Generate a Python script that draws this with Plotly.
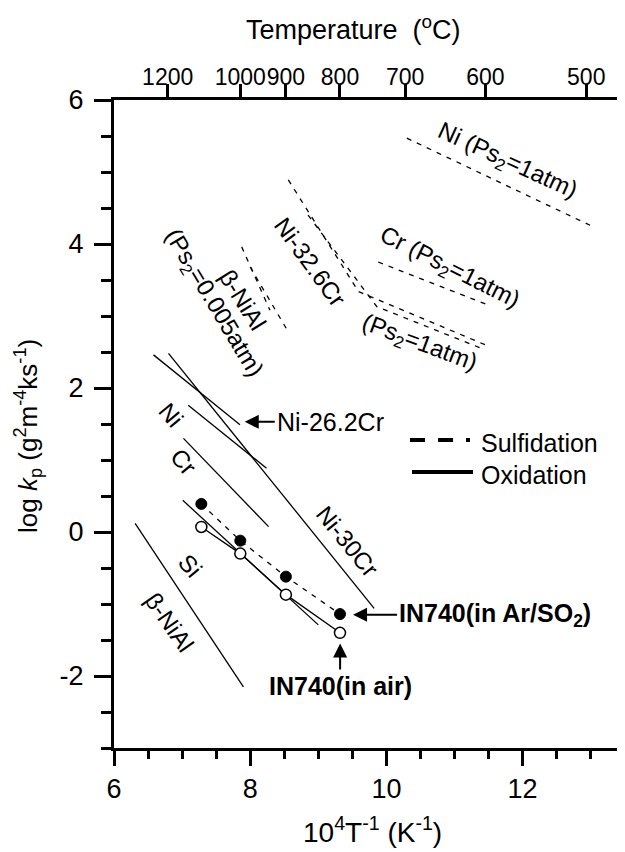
import plotly.graph_objects as go

# ---------------- data ----------------
# top axis temperatures (deg C)
top_temps = [1200, 1000, 900, 800, 700, 600, 500]
y_ticks = [-2, 0, 2, 4, 6]
x_ticks = [6, 8, 10, 12]

# Sulfidation (dashed) lines, x = 10^4/T (K^-1), y = log kp
sulf_Ni_x = [10.30, 12.99]
sulf_Ni_y = [5.47, 4.26]
sulf_Cr_x = [9.88, 11.50]
sulf_Cr_y = [3.75, 3.15]
sulf_Ni326Cr_a_x = [8.56, 9.59, 11.45]
sulf_Ni326Cr_a_y = [4.89, 3.34, 2.60]
sulf_Ni326Cr_b_x = [8.85, 9.86, 11.45]
sulf_Ni326Cr_b_y = [4.40, 3.13, 2.53]
sulf_NiAl_a_x = [7.875, 8.29]
sulf_NiAl_a_y = [3.96, 3.08]
sulf_NiAl_b_x = [8.00, 8.54]
sulf_NiAl_b_y = [3.68, 2.81]

# Oxidation (solid) lines
ox_Ni262Cr_x = [6.58, 7.85]
ox_Ni262Cr_y = [2.46, 1.49]
ox_Ni_x = [7.09, 8.24]
ox_Ni_y = [1.76, 0.885]
ox_Ni30Cr_x = [6.80, 9.82]
ox_Ni30Cr_y = [2.48, -1.06]
ox_Cr_x = [7.02, 8.27]
ox_Cr_y = [1.30, 0.075]
ox_Si_x = [7.01, 9.00]
ox_Si_y = [0.44, -1.29]
ox_NiAl_x = [6.31, 7.90]
ox_NiAl_y = [0.12, -2.15]

# IN740 measurements
in740_temps = [1100, 1000, 900, 800]
in740_air = [0.07, -0.30, -0.87, -1.40]
in740_so2 = [0.39, -0.12, -0.62, -1.14]

FONT = "Liberation Sans, Arial, sans-serif"
in740_x = [1e4 / (t + 273.15) for t in in740_temps]
top_x = [1e4 / (t + 273.15) for t in top_temps]

# page body has an 8px margin: figure coordinates are offset accordingly
OFF = 8
PL, PT, PW, PH = 114 - OFF, 100 - OFF, 506, 648
FIG_W = 625 - OFF
FIG_H = 852 - OFF

def px(xpix):
    return (xpix - 114) / PW

def py(ypix):
    return (748 - ypix) / PH

fig = go.Figure()

def add_line(x, y, dash):
    fig.add_trace(go.Scatter(x=x, y=y, mode="lines",
                             line=dict(color="black", width=1.3, dash=dash),
                             showlegend=False, hoverinfo="skip"))

DASH = "5px,6px"
for xs, ys in [(sulf_Ni_x, sulf_Ni_y), (sulf_Cr_x, sulf_Cr_y),
               (sulf_Ni326Cr_a_x, sulf_Ni326Cr_a_y), (sulf_Ni326Cr_b_x, sulf_Ni326Cr_b_y),
               (sulf_NiAl_a_x, sulf_NiAl_a_y), (sulf_NiAl_b_x, sulf_NiAl_b_y)]:
    add_line(xs, ys, DASH)

for xs, ys in [(ox_Ni262Cr_x, ox_Ni262Cr_y), (ox_Ni_x, ox_Ni_y), (ox_Ni30Cr_x, ox_Ni30Cr_y),
               (ox_Cr_x, ox_Cr_y), (ox_Si_x, ox_Si_y), (ox_NiAl_x, ox_NiAl_y)]:
    add_line(xs, ys, "solid")

# IN740 in Ar/SO2 (filled, dashed)
fig.add_trace(go.Scatter(x=in740_x, y=in740_so2, mode="lines+markers",
                         line=dict(color="black", width=1.3, dash=DASH),
                         marker=dict(symbol="circle", size=11, color="black",
                                     line=dict(color="black", width=1)),
                         showlegend=False, hoverinfo="skip"))
# IN740 in air (open, solid)
fig.add_trace(go.Scatter(x=in740_x, y=in740_air, mode="lines+markers",
                         line=dict(color="black", width=1.3),
                         marker=dict(symbol="circle", size=11, color="white",
                                     line=dict(color="black", width=1.5)),
                         showlegend=False, hoverinfo="skip"))
# dummy trace for top axis
fig.add_trace(go.Scatter(x=[top_x[0]], y=[0], xaxis="x2", mode="markers",
                         marker=dict(opacity=0), showlegend=False, hoverinfo="skip"))

XR = [6, 13.43]
fig.update_layout(
    width=FIG_W, height=FIG_H,
    margin=dict(l=PL, r=FIG_W - PL - PW, t=PT, b=FIG_H - PT - PH, autoexpand=False),
    plot_bgcolor="white", paper_bgcolor="white",
    font=dict(family=FONT, size=24, color="black"),
    xaxis=dict(range=XR, tickvals=x_ticks, ticktext=[str(v) for v in x_ticks],
               ticks="outside", ticklen=15, tickwidth=3, tickangle=0,
               tickcolor="black", showline=True, linewidth=3, linecolor="black",
               showgrid=False, zeroline=False, tickfont=dict(size=27), automargin=False,
               minor=dict(tick0=6, dtick=0.5, ticks="outside", ticklen=8, tickwidth=3,
                          tickcolor="black", showgrid=False)),
    xaxis2=dict(range=XR, overlaying="x", side="top", anchor="y",
                tickvals=top_x, ticktext=[str(t) for t in top_temps], tickangle=0,
                ticks="outside", ticklen=13, tickwidth=3, tickcolor="black",
                showline=True, linewidth=3, linecolor="black", automargin=False,
                showgrid=False, zeroline=False, tickfont=dict(size=23),
                ticklabelstandoff=-10),
    yaxis=dict(range=[-3, 6], tickvals=y_ticks, ticktext=[str(v) for v in y_ticks],
               ticks="outside", ticklen=17,
               tickwidth=3, tickcolor="black", showline=True, linewidth=3,
               linecolor="black", mirror=True, showgrid=False, zeroline=False,
               tickfont=dict(size=27), automargin=False, ticklabelstandoff=5,
               minor=dict(tick0=0, dtick=0.5, ticks="outside", ticklen=10, tickwidth=3,
                          tickcolor="black", showgrid=False)),
)

# axis titles
fig.add_annotation(text="Temperature  (<sup>o</sup>C)", xref="paper", yref="paper",
                   x=px(353), y=py(28), xanchor="center", yanchor="middle",
                   showarrow=False, font=dict(size=27))
fig.add_annotation(text="10<sup>4</sup>T<sup>-1</sup> (K<sup>-1</sup>)", xref="paper", yref="paper",
                   x=px(372), y=py(830), xanchor="center", yanchor="middle",
                   showarrow=False, font=dict(size=28))
fig.add_annotation(text="log <i>k</i><sub>p</sub> (g<sup>2</sup>m<sup>-4</sup>ks<sup>-1</sup>)",
                   xref="paper", yref="paper", x=px(28), y=py(436),
                   xanchor="center", yanchor="middle",
                   textangle=-90, showarrow=False, font=dict(size=26))

# rotated labels
labels = [
    ("Ni (Ps<sub>2</sub>=1atm)", 11.77, 5.14, 24.5),
    ("Cr (Ps<sub>2</sub>=1atm)", 10.93, 3.66, 26.6),
    ("(Ps<sub>2</sub>=1atm)", 10.48, 2.62, 20.5),
    ("Ni-32.6Cr", 8.89, 3.75, 54),
    ("β-NiAl", 7.90, 3.22, 58),
    ("(Ps<sub>2</sub>=0.005atm)", 7.46, 3.18, 59),
    ("Ni", 6.85, 1.625, 50),
    ("Cr", 7.02, 0.98, 50),
    ("Si", 7.12, -0.46, 50),
    ("β-NiAl", 6.82, -1.25, 55),
    ("Ni-30Cr", 9.43, -0.13, 51),
]
for t, x, y, a in labels:
    fig.add_annotation(text=t, x=x, y=y, textangle=a, showarrow=False, font=dict(size=24))

# arrow labels
ARW = dict(showarrow=True, arrowhead=2, arrowsize=1.4, arrowwidth=2, arrowcolor="black")
fig.add_annotation(text="Ni-26.2Cr", x=7.92, y=1.53, ax=30, ay=0, xanchor="left",
                   font=dict(size=25), **ARW)
fig.add_annotation(text="<b>IN740(in Ar/SO<sub>2</sub>)</b>", x=9.51, y=-1.15, ax=44, ay=0,
                   xanchor="left", font=dict(size=25), **ARW)
fig.add_annotation(text="<b>IN740(in air)</b>", x=9.32, y=-1.55, ax=0, ay=26,
                   yanchor="top", font=dict(size=25), **ARW)

# legend (drawn)
fig.add_shape(type="line", xref="paper", yref="paper", x0=px(410), x1=px(470),
              y0=py(440), y1=py(440),
              line=dict(color="black", width=4, dash="15px,13px"))
fig.add_shape(type="line", xref="paper", yref="paper", x0=px(412), x1=px(473),
              y0=py(472), y1=py(472), line=dict(color="black", width=4))
fig.add_annotation(text="Sulfidation", xref="paper", yref="paper", x=px(479),
                   y=py(443), xanchor="left", yanchor="middle", showarrow=False,
                   font=dict(size=25))
fig.add_annotation(text="Oxidation", xref="paper", yref="paper", x=px(479),
                   y=py(475), xanchor="left", yanchor="middle", showarrow=False,
                   font=dict(size=25))

fig.write_html("out.html")
